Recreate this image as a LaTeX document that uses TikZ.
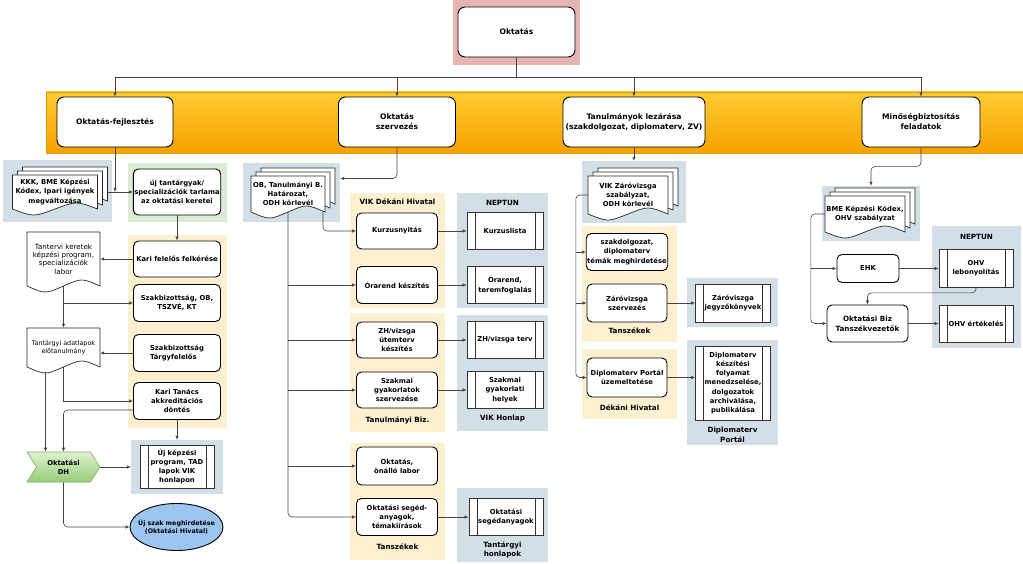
\documentclass[tikz,border=0pt]{standalone}
\usepackage{fontspec}
\setmainfont{DejaVu Sans}
\usetikzlibrary{arrows.meta,shapes.geometric,shapes.symbols}
\definecolor{linegrey}{HTML}{444444}
\definecolor{pinkbg}{HTML}{E6B5B2}
\definecolor{bandtop}{HTML}{FFCC33}
\definecolor{bandbot}{HTML}{F6A200}
\definecolor{bandline}{HTML}{E39B00}
\definecolor{cream}{HTML}{FDF0D0}
\definecolor{steel}{HTML}{D2DFE6}
\definecolor{mint}{HTML}{DCEBD4}
\definecolor{sky}{HTML}{9DC5F0}
\definecolor{leaftop}{HTML}{DDF2CF}
\definecolor{leafbot}{HTML}{97CD78}
\definecolor{leafline}{HTML}{7BAF5C}
\newcommand\boxfont{\fontsize{6.8}{9.2}\selectfont\bfseries}
\newcommand\topfont{\fontsize{7.6}{10}\selectfont\bfseries}
\newcommand\grpfont{\fontsize{7.2}{9.4}\selectfont\bfseries}
\newcommand\docfont{\fontsize{6.4}{7.8}\selectfont}
\tikzset{box/.style={draw=black,line width=.9pt,rounded corners=5pt,fill=white,
  align=center,font=\boxfont,inner sep=1pt},
  topbox/.style={box,minimum height=50,rounded corners=7pt,font=\topfont},
  lbox/.style={box,minimum width=87,minimum height=37},
  mbox/.style={box,minimum width=81,minimum height=37},
  rbox/.style={box,minimum width=80,minimum height=38},
  procbox/.style={draw=black!80,line width=.7pt,fill=white,align=center,
  font=\boxfont,inner sep=1pt,minimum width=76,minimum height=37,
  path picture={\draw[black!80,line width=.6pt]
    ([xshift=8pt]path picture bounding box.north west) --
    ([xshift=8pt]path picture bounding box.south west)
    ([xshift=-8pt]path picture bounding box.north east) --
    ([xshift=-8pt]path picture bounding box.south east);}},
  grpbox/.style={fill=#1,inner sep=0pt},
  grplabel/.style={font=\grpfont,align=center,inner sep=0pt},
  band/.style={top color=bandtop,bottom color=bandbot,draw=bandline,line width=.5pt},
  docpage/.style={draw=black!85,line width=.7pt,fill=white},
  doctext/.style={align=center,inner sep=0pt,font=\boxfont},
  arrow/.style={-{Latex[length=4pt,width=3.4pt]},line width=.6pt,draw=linegrey}}
% stacked document: [opts] name, x, y, width, height, back pages, text
\newcommand\docstack[8][]{%
  \foreach \k in {#7,...,0}{
    \begin{scope}[shift={(#3+5*\k,#4-4*\k)}]
      \filldraw[docpage] ({-#5/2},{-#6/2}) -- ({#5/2},{-#6/2}) -- ({#5/2},{#6/2})
        .. controls ({#5/4},{#6/2-8}) .. (0,{#6/2})
        .. controls ({-#5/4},{#6/2+8}) .. ({-#5/2},{#6/2}) -- cycle;
    \end{scope}
  }
  \node[doctext,minimum width=#5,minimum height=#6,#1] (#2) at (#3,#4) {#8};
}

\begin{document}
\begin{tikzpicture}[x=1pt,y=-1pt]
\useasboundingbox[fill=white] (0,0) rectangle (1023,564);
% backgrounds
\node[band,minimum width=977,minimum height=61] (band) at (534.5,122.5) {};
\foreach \n/\c/\x/\y/\w/\h in {okt/pinkbg/516.5/32.5/127/65,
  kkk/steel/57.5/191/109/62, uj/mint/177.5/192.5/99/59,
  kari/cream/177.5/331.5/99/193, ujkep/steel/177/467/92/54,
  ob/steel/291.5/192.5/97/59, vik/cream/397.5/250.5/95/115,
  tb/cream/397.5/372.5/95/119, tsz/cream/397.5/501.5/95/117,
  nep/steel/502.5/250.5/91/115, honlap/steel/502.5/373/91/116,
  tant/steel/502.5/525/91/74, zv/steel/634/192/104/62,
  tsz2/cream/629.5/284/95/116, dek/cream/629.5/384/95/70,
  zvj/steel/732.5/302.5/91/49, dp/steel/732.5/392.5/91/105,
  bme/steel/871/213.5/98/55, nep2/steel/976.5/287/89/122}{
  \node[grpbox=\c,minimum width=\w,minimum height=\h] (g-\n) at (\x,\y) {};
}
\foreach \n/\x/\y/\txt in {vik/397.5/202/VIK Dékáni Hivatal,
  tb/397.5/420/Tanulmányi Biz., tsz/397.5/547/Tanszékek,
  nep/502.5/203/NEPTUN, honlap/502.5/419/VIK Honlap,
  tant/502.5/550/Tantárgyi\\honlapok, tsz2/629.5/331/Tanszékek,
  dek/629.5/408/Dékáni Hivatal, dp/732.5/435/Diplomaterv\\Portál,
  nep2/976.5/237/NEPTUN}{
  \node[grplabel] (l-\n) at (\x,\y) {\txt};
}
% top
\node[topbox,minimum width=117] (okt) at (516.5,32) {Oktatás};
\node[topbox,minimum width=116] (fejl) at (115,122) {Oktatás-fejlesztés};
\node[topbox,minimum width=117] (szerv) at (397,122) {Oktatás\\szervezés};
\node[topbox,minimum width=142] (lez) at (634,122)
  {Tanulmányok lezárása\\(szakdolgozat, diplomaterv, ZV)};
\node[topbox,minimum width=118] (minos) at (921,122)
  {Minőségbiztosítás\\feladatok};
% Oktatas-fejlesztes
\docstack{kkk}{55}{192}{85}{34}{2}{KKK, BME Képzési\\Kódex, Ipari igények\\megváltozása}
\node[lbox,minimum height=46] (uj) at (177,192)
  {új tantárgyak/\\specializációk tarlama\\az oktatási keretei};
\node[lbox,minimum height=36] (kari1) at (177,259) {Kari felelős felkérése};
\node[lbox] (szak1) at (177,303) {Szakbizottság, OB,\\TSZVÉ, KT};
\node[lbox,align=left] (szak2) at (177,353) {Szakbizottság\\Tárgyfelelős};
\node[lbox] (kariT) at (177,401) {Kari Tanács\\akkreditációs\\döntés};
\docstack[font=\fontsize{7.1}{8.3}\selectfont]{tanterv}{63.5}{259}{73}{54}{0}
  {Tantervi keretek\\képzési program,\\specializációk\\labor}
\docstack[font=\docfont]{tantargyi}{63.5}{347.5}{73}{39}{0}
  {Tantárgyi adatlapok\\előtanulmány}
\node[signal,signal to=east,signal from=west,signal pointer angle=115,
  top color=leaftop,bottom color=leafbot,draw=leafline,line width=.6pt,
  minimum width=73,minimum height=30,inner sep=0pt,font=\boxfont,align=center]
  (dh) at (63.5,467) {Oktatási\\DH};
\node[procbox,minimum width=74,minimum height=43] (ujkep) at (177,466.5)
  {Új képzési\\program, TAD\\lapok VIK\\honlapon};
\node[ellipse,draw=black,fill=sky,line width=.9pt,minimum width=93,
  minimum height=47,inner xsep=-6pt,inner ysep=0pt,align=center,
  font=\fontsize{6.3}{8}\selectfont\bfseries] (ujszak) at (176.5,527)
  {Új szak meghirdetése\\(Oktatási Hivatal)};
% Oktatas szervezes
\docstack{ob}{288}{194}{74}{36}{2}{OB, Tanulmányi B.\\Határozat,\\ODH körlevél}
\node[mbox,minimum height=36] (kurzus) at (397,231) {Kurzusnyitás};
\node[mbox] (orarend) at (397,285) {Órarend készítés};
\node[mbox,minimum height=36] (zh) at (397,340) {ZH/vizsga\\ütemterv\\készítés};
\node[mbox,minimum height=36] (szakm) at (397,390)
  {Szakmai\\gyakorlatok\\szervezése};
\node[mbox,minimum height=38] (onallo) at (397,466) {Oktatás,\\önálló labor};
\node[mbox] (seged) at (397,517) {Oktatási segéd-\\anyagok,\\témakiírások};
\node[procbox] (kurzlista) at (505,231) {Kurzuslista};
\node[procbox] (terem) at (505,285) {Órarend,\\teremfoglalás};
\node[procbox] (zhterv) at (505,340) {ZH/vizsga terv};
\node[procbox] (szhely) at (505,390) {Szakmai\\gyakorlati\\helyek};
\node[procbox,minimum width=74] (segedany) at (506,517)
  {Oktatási\\segédanyagok};
% Tanulmanyok lezarasa
\docstack{zvdoc}{628}{195}{80}{38}{2}{VIK Záróvizsga\\szabályzat,\\ODH körlevél}
\node[rbox,minimum height=37] (szakd) at (627,252)
  {szakdolgozat,\\diplomaterv\\témák meghirdetése};
\node[rbox] (zvszerv) at (627,303) {Záróvizsga\\szervezés};
\node[rbox,minimum height=39] (dpuzem) at (627,377.5)
  {Diplomaterv Portál\\üzemeltetése};
\node[procbox,minimum width=75,minimum height=38] (zvjegy) at (733,303)
  {Záróviszga\\jegyzőkönyvek};
\node[procbox,minimum width=75,minimum height=74] (dpproc) at (733,383)
  {Diplomaterv\\készítési\\folyamat\\menedzselése,\\dolgozatok\\archiválása,\\publikálása};
% Minosegbiztositas
\docstack{bmedoc}{865}{214}{80}{36}{2}{BME Képzési Kódex,\\OHV szabályzat}
\node[box,minimum width=62,minimum height=28] (ehk) at (868,268.5) {EHK};
\node[box,minimum width=81,minimum height=37,font=\grpfont] (okbiz) at (867.5,323.5)
  {Oktatási Biz\\Tanszékvezetők};
\node[procbox,minimum width=74,minimum height=38] (ohvleb) at (976,268.5)
  {OHV\\lebonyolítás};
\node[procbox,minimum width=74] (ohvert) at (976,323.5) {OHV értékelés};
% connectors
\coordinate (split) at (517,77);
\foreach \n in {fejl,szerv,lez,minos}
  \draw[arrow] (okt.south) |- (split -| \n.north) -- (\n.north);
\draw[arrow] ([xshift=10pt]kkk.east) -- (uj.west);
\draw[arrow] (fejl.south) -- (fejl.south |- uj.west);
\draw[arrow] (uj.south) -- (kari1.north);
\draw[arrow] (kari1.west) -- (kari1.west -| tanterv.east);
\draw[arrow] (tanterv.south) |- (szak1.west);
\draw[arrow] (tanterv.south) -- (tantargyi.north);
\draw[arrow] (szak2.west) -- (szak2.west -| tantargyi.east);
\draw[arrow] (tantargyi.south) |- (kariT.west);
\draw[arrow,rounded corners=4pt] ([yshift=-9pt]kariT.west) -| (dh.north);
\draw[arrow] ([xshift=-18pt,yshift=-5pt]tantargyi.south)
  -- ([xshift=-18pt]tantargyi.south |- dh.north);
\draw[arrow] (kariT.south) -- (kariT.south |- g-ujkep.north);
\draw[arrow] (dh.east) -- (dh.east -| g-ujkep.west);
\draw[arrow,rounded corners=4pt] (dh.south) |- (ujszak.west);
\draw[arrow,rounded corners=4pt] (szerv.south) |- ([yshift=14pt]g-ob.east);
\draw[arrow,rounded corners=4pt] ([xshift=35pt]ob.south) |- (kurzus.west);
\draw[arrow,rounded corners=4pt] (ob.south) |- (seged.west);
\foreach \t in {orarend,zh,szakm,onallo}
  \draw[arrow] (ob.south |- \t.west) -- (\t.west);
\foreach \a/\b in {kurzus/kurzlista,orarend/terem,zh/zhterv,szakm/szhely,seged/segedany}
  \draw[arrow] (\a.east) -- (\b.west);
\draw[arrow] (lez.south) -- (lez.south |- g-zv.north);
\draw[arrow,rounded corners=4pt] (zvdoc.west) -- ++(-12,0) |- (dpuzem.west);
\foreach \t in {szakd,zvszerv}
  \draw[arrow] ([xshift=-12pt]zvdoc.west |- \t.west) -- (\t.west);
\draw[arrow] (zvszerv.east) -- (zvjegy.west);
\draw[arrow] (dpuzem.east) -- (dpuzem.east -| dpproc.west);
\draw[arrow,rounded corners=4pt] (minos.south) -- ++(0,19) -| (g-bme.north);
\draw[arrow,rounded corners=4pt] (bmedoc.west) -- ++(-14,0) |- (okbiz.west);
\draw[arrow] ([xshift=-14pt]bmedoc.west |- ehk.west) -- (ehk.west);
\draw[arrow] (ehk.east) -- (ohvleb.west);
\draw[arrow] (okbiz.east) -- (ohvert.west);
\draw[arrow,rounded corners=4pt] (ohvleb.south) -- ++(0,5) -| (okbiz.north);
\end{tikzpicture}
\end{document}
